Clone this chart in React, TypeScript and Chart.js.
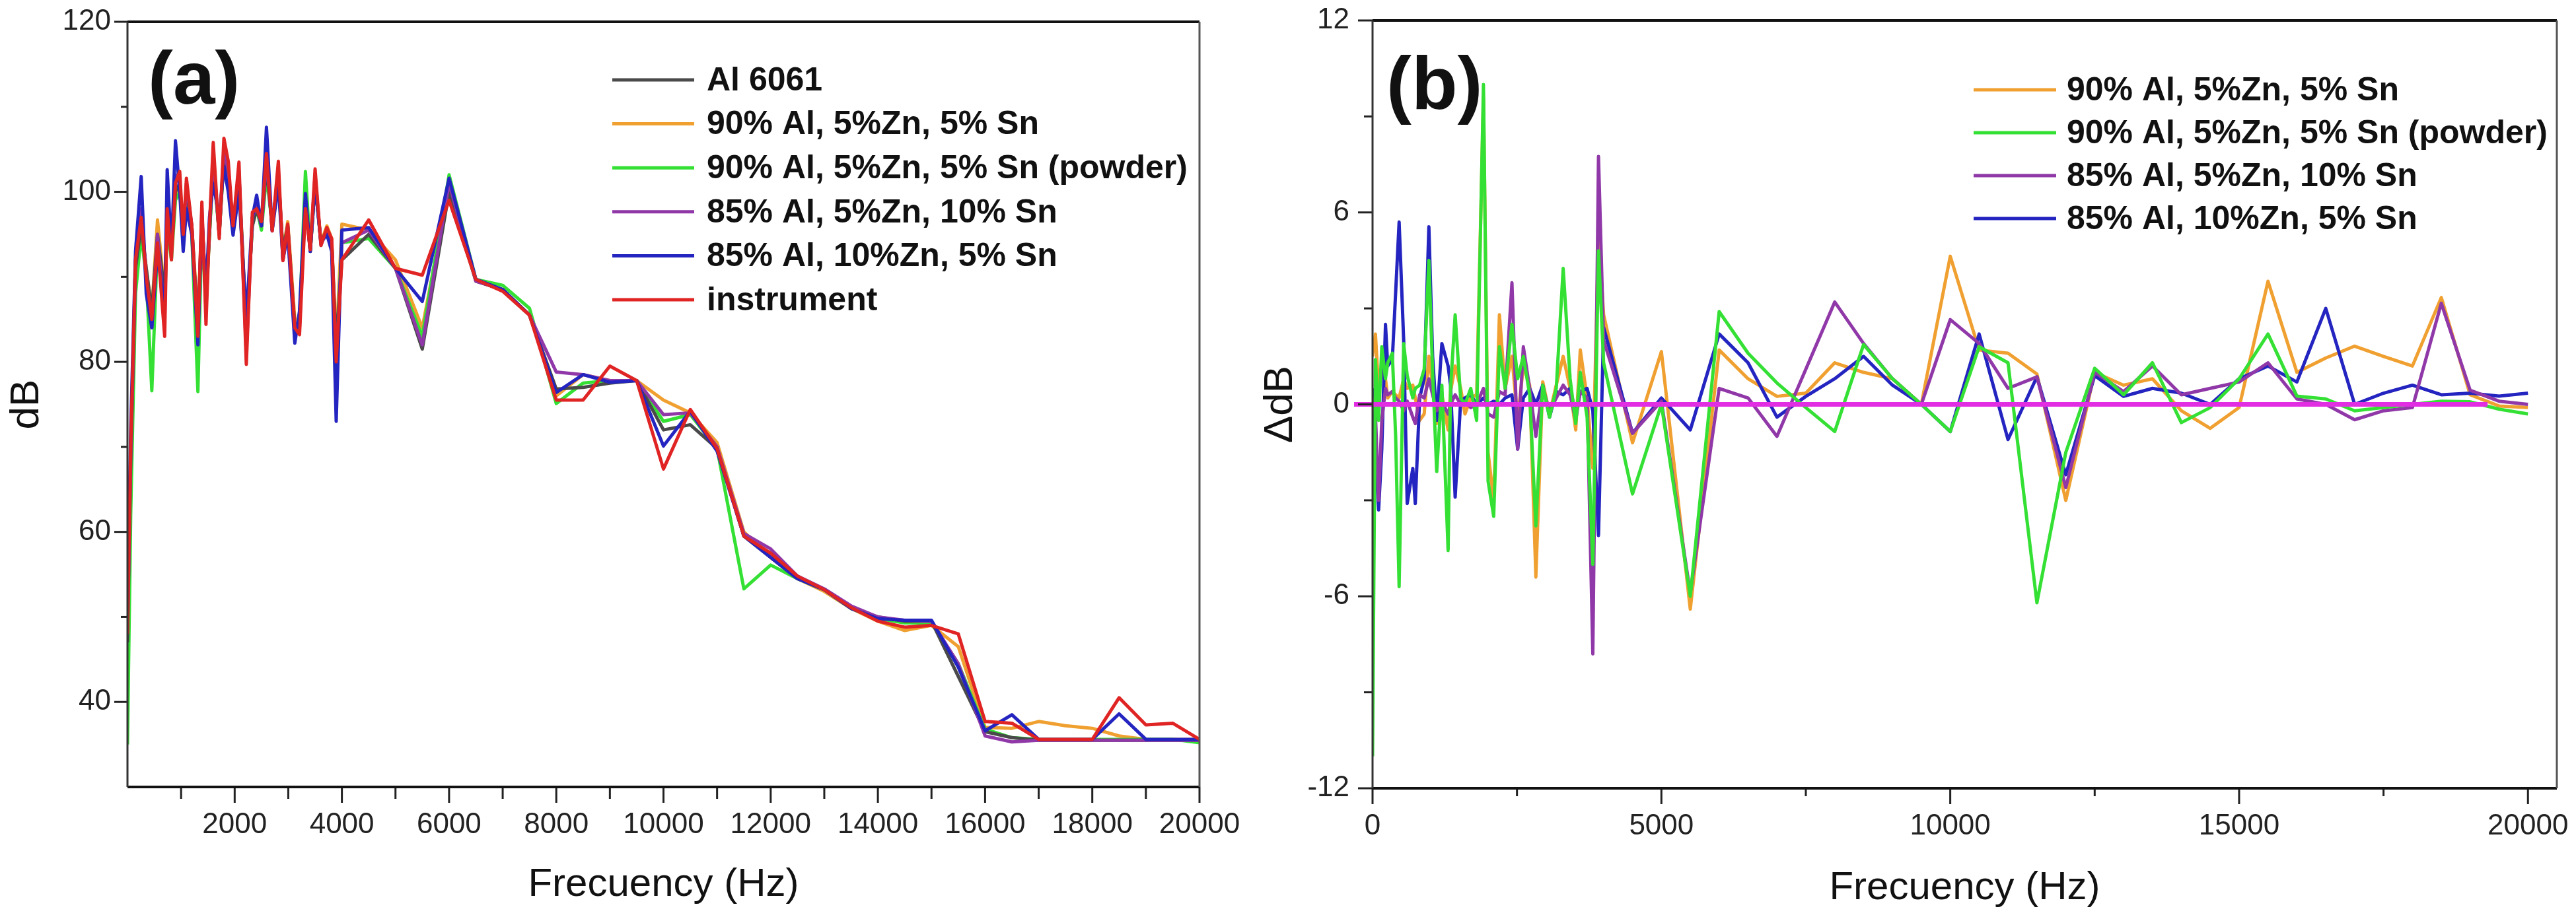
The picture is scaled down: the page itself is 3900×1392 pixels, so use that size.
import { useEffect, useRef } from "react";
import { Chart, registerables } from "chart.js";

Chart.register(...registerables);

const SANS = '"Liberation Sans", Arial, sans-serif';

// ---------- panel (a): level in dB ----------
const FREQ_A = [
  0, 60, 150, 256, 350, 454, 560, 694, 741, 820, 895, 975, 1040, 1100, 1200, 1314, 1388, 1465, 1530, 1600,
  1712, 1799, 1880, 1970, 2080, 2217, 2330, 2410, 2500, 2593, 2700, 2815, 2900, 2990, 3122, 3210, 3320, 3410,
  3500, 3610, 3720, 3810, 3894,
  4000, 4500, 5000, 5500, 6000, 6500, 7000, 7500, 8000, 8500, 9000, 9500, 10000, 10500, 11000, 11500, 12000,
  12500, 13000, 13500, 14000, 14500, 15000, 15500, 16000, 16500, 17000, 17500, 18000, 18500, 19000, 19500, 20000,
];
const INSTRUMENT = [
  48, 70, 92, 97, 90, 85, 94, 83, 98, 92, 101, 102.4, 95, 101.6, 96, 83, 98.8, 84.4, 96, 105.8,
  94.5, 106.3, 103.6, 96, 103.5, 79.7, 97.6, 98, 96.5, 104.5, 95.4, 103.6, 91.9, 96.2, 84, 83.2, 98, 93.2,
  102.7, 93.7, 95.8, 94.5, 80,
  92, 96.7, 91, 90.2, 99, 89.7, 88.3, 85.5, 75.5, 75.5, 79.5, 77.8, 67.4, 74.4, 69.8, 59.5, 57.5,
  54.8, 53.2, 51.1, 49.5, 48.8, 49, 48, 37.7, 37.5, 35.6, 35.6, 35.6, 40.5, 37.3, 37.5, 35.6,
];
const AL85_ZN10_A = [
  50, 72, 93, 101.8, 88, 84, 93, 86, 102.6, 93, 106, 100, 93, 98, 95, 82, 97, 88, 97, 101,
  97, 103, 100, 94.9, 100, 85, 97, 99.6, 96, 107.6, 95.4, 101, 92, 95, 82.2, 86, 99.8, 93,
  101, 94, 95, 93, 73,
  95.5, 95.8, 91, 87.1, 101.6, 89.7, 88.5, 85.5, 76.4, 78.5, 77.6, 77.8, 70.1, 74.2, 69.5, 59.5, 57,
  54.5, 53.2, 51, 49.8, 49.6, 49.6, 44.1, 36.6, 38.5, 35.6, 35.6, 35.6, 38.6, 35.6, 35.6, 35.6,
];
const AL6061_A = [
  47, 68, 91, 96, 91, 86, 95, 88, 97, 93, 100, 101, 95, 100, 96, 84, 97, 88, 95, 104,
  95, 104, 102, 96, 102, 84, 96, 98, 96, 103, 96, 102, 93, 96, 84, 85, 99, 93,
  101, 94, 95.5, 94, 82,
  92, 95, 91, 81.5, 100, 89.5, 88.5, 85.5, 76.8, 77, 77.5, 77.8, 72, 72.6, 69.8, 59.5, 57,
  54.5, 53.2, 51, 50, 49.5, 49.5, 43, 36.5, 35.8, 35.5, 35.5, 35.5, 35.5, 35.5, 35.5, 35.5,
];
const AL90_A = [
  46, 68, 91, 96.5, 91, 86, 96.7, 88, 97, 93, 99.5, 101, 96, 100, 96, 85, 97, 87, 95, 104,
  95, 104.5, 102, 96, 102, 83, 96.5, 98, 96, 103, 96, 102, 93, 96.5, 85, 85, 99, 93.5,
  101.5, 94, 96, 94.5, 82,
  96.2, 95.5, 92, 84, 100.5, 89.5, 88.5, 85.5, 76, 78.5, 77.8, 77.8, 75.5, 74, 70.5, 60, 57,
  54.5, 53, 51, 49.5, 48.4, 49, 46.5, 37, 36.9, 37.7, 37.2, 36.9, 36, 35.6, 35.6, 35.6,
];
const AL90_POWDER_A = [
  35, 62, 88, 95, 90, 76.6, 94, 87, 96, 92, 99, 100, 95, 99, 95, 76.5, 96, 87, 95, 103,
  95, 104, 101.5, 96, 101, 84, 96, 98, 95.5, 102, 96, 101, 93, 96, 84, 85, 102.4, 93,
  101, 94, 95.5, 94, 81,
  94, 94.5, 91, 83, 102, 89.7, 89, 86.3, 75.1, 77.5, 77.8, 77.8, 73, 73.8, 69.8, 53.3, 56.1,
  54.5, 53.2, 51, 49.8, 49.3, 49.3, 44.5, 36.8, 35.8, 35.6, 35.6, 35.6, 35.6, 35.6, 35.6, 35.2,
];
const AL85_SN10_A = [
  48, 69, 92, 98, 90, 84, 95, 85, 99, 93, 102, 101, 94, 101, 96, 83, 98, 86, 96, 104,
  95, 105, 102.5, 96, 102.5, 81, 97, 98.5, 96, 104, 95.5, 102.5, 92, 96, 83, 84, 99, 93,
  102, 93.7, 95.6, 94, 79,
  94, 95.5, 91, 82, 101, 89.5, 88.5, 85.5, 78.8, 78.5, 77.8, 77.8, 73.8, 74, 70, 59.8, 58,
  54.8, 53.3, 51.3, 50, 49.6, 49.5, 44.5, 36, 35.3, 35.5, 35.5, 35.5, 35.5, 35.5, 35.5, 35.5,
];
const X_TICKS_A = [1000, 2000, 3000, 4000, 5000, 6000, 7000, 8000, 9000, 10000, 11000, 12000, 13000, 14000, 15000, 16000, 17000, 18000, 19000, 20000];
const X_LABELS_A = [2000, 4000, 6000, 8000, 10000, 12000, 14000, 16000, 18000, 20000];
const Y_TICKS_A = [40, 50, 60, 70, 80, 90, 100, 110, 120];
const Y_LABELS_A = [40, 60, 80, 100, 120];

// ---------- panel (b): difference in dB ----------
const FREQ_B = [
  0, 50, 105, 160, 224, 263, 342, 400, 460, 539, 600, 697, 740, 815, 894, 975, 1040, 1111, 1200, 1308,
  1350, 1430, 1525, 1600, 1700, 1802, 1920, 2000, 2097, 2196, 2295, 2413, 2512, 2610, 2720, 2827, 2946, 3064,
  3180, 3300, 3420, 3517, 3596, 3714, 3813, 3911,
  4000, 4500, 5000, 5500, 6000, 6500, 7000, 7500, 8000, 8500, 9000, 9500, 10000, 10500, 11000, 11500, 12000,
  12500, 13000, 13500, 14000, 14500, 15000, 15500, 16000, 16500, 17000, 17500, 18000, 18500, 19000, 19500, 20000,
];
const D_AL90 = [
  1.5, 2.2, 0.5, 1.0, 0.8, 0.2, 0.4, 0.3, 0.2, 0.8, 0.5, 0.6, 0.2, -0.5, -0.3, 1.5, 0.6, -0.6, 0.3, -0.8,
  0.4, 1.2, 0.5, -0.3, 0.2, 0.3, 9.6, -1.5, -3.0, 2.8, 0.5, 1.5, -0.5, 1.2, 0.6, -5.4, 0.7, -0.3,
  0.6, 1.5, 0.5, -0.8, 1.7, 0.2, -2.0, 5.26,
  2.8, -1.2, 1.65, -6.4, 1.7, 0.8, 0.25, 0.35, 1.3, 1.0, 0.8, 0, 4.63, 1.7, 1.6, 0.95, -3.0,
  1.0, 0.6, 0.8, -0.2, -0.75, -0.1, 3.85, 1.0, 1.45, 1.82, 1.5, 1.2, 3.34, 0.3, -0.05, -0.1,
];
const D_AL90_POWDER = [
  -11, 1.4, -0.5, 1.8, 0.8, 1.3, 1.6, -1.0, -5.7, 1.9, 0.9, 0.2, 0.5, 0.6, 1.1, 4.5, 1.0, -2.1, 0.6, -4.57,
  0.5, 2.8, 0.2, 0, 0.5, -0.5, 10, -2.4, -3.5, 1.8, 0.5, 2.5, 0.8, 1.5, 0.3, -3.8, 0.6, -0.4,
  0.5, 4.25, 0.8, -0.6, 1.0, -0.4, -5.0, 4.8,
  1.3, -2.8, 0, -6.0, 2.9, 1.6, 0.67, -0.1, -0.85, 1.87, 0.8, 0, -0.85, 1.8, 1.3, -6.2, -1.5,
  1.13, 0.3, 1.3, -0.57, -0.1, 0.8, 2.2, 0.26, 0.17, -0.2, -0.1, 0, 0.1, 0.08, -0.15, -0.3,
];
const D_AL85_SN10 = [
  0.2, -0.3, -3.0, -0.5, 0.5, 0.3, 0.4, 0.2, 0.1, -0.2, 0.1, -0.4, -0.6, 0.3, 0.2, 0.8, 0.3, -0.2, 0.1, -0.3,
  0, 0.3, 0, 0.1, -0.1, 0, 0.5, -0.3, -0.4, 0.4, 0.3, 3.8, -1.4, 1.8, 0.5, -1.0, 0.5, -0.2,
  0.2, 0.6, 0.3, -0.5, 0.4, 0.2, -7.8, 7.75,
  2.0, -0.9, 0.1, -5.9, 0.5, 0.2, -1.0, 1.1, 3.2, 1.9, 0.8, 0, 2.65, 1.9, 0.5, 0.86, -2.6,
  1.0, 0.4, 1.2, 0.3, 0.5, 0.7, 1.3, 0.17, 0, -0.48, -0.2, -0.1, 3.16, 0.44, 0.1, 0,
];
const D_AL85_ZN10 = [
  0.5, -1.5, -3.3, -1.4, 2.5, 1.2, 1.4, 3.5, 5.7, 2.0, -3.1, -2.0, -3.1, 0.2, 0.8, 5.55, 1.5, -0.5, 1.9, 1.2,
  0.6, -2.9, 0.1, 0.2, 0.3, 0, 0.2, 0, 0.1, 0, 0.2, 0.3, -1.4, 0.2, 0.5, 0, 0.6, -0.4,
  0.4, 0.3, 0.5, -0.3, 0.4, 0.5, -0.2, -4.1,
  2.4, -0.9, 0.2, -0.8, 2.2, 1.3, -0.4, 0.25, 0.8, 1.5, 0.6, 0, -0.85, 2.2, -1.1, 0.86, -2.2,
  0.9, 0.25, 0.5, 0.35, 0, 0.8, 1.2, 0.7, 3.0, 0, 0.35, 0.6, 0.3, 0.35, 0.26, 0.35,
];
const ZERO_X = [-320, 19300];
const ZERO_Y = [0, 0];
const X_TICKS_B = [0, 2500, 5000, 7500, 10000, 12500, 15000, 17500, 20000];
const X_LABELS_B = [0, 5000, 10000, 15000, 20000];
const Y_TICKS_B = [-12, -9, -6, -3, 0, 3, 6, 9, 12];
const Y_LABELS_B = [-12, -6, 0, 6, 12];

const C_GRAY = "#4a4a4a";
const C_ORANGE = "#f0a030";
const C_GREEN = "#35e035";
const C_PURPLE = "#9038a8";
const C_BLUE = "#2424c0";
const C_RED = "#e02424";
const C_MAGENTA = "#e22ee2";

const N_AL6061 = "Al 6061";
const N_AL90 = "90% Al, 5%Zn, 5% Sn";
const N_POWDER = "90% Al, 5%Zn, 5% Sn (powder)";
const N_SN10 = "85% Al, 5%Zn, 10% Sn";
const N_ZN10 = "85% Al, 10%Zn, 5% Sn";
const N_INSTR = "instrument";

type Line = { label: string; color: string; values: number[]; xs?: number[]; width?: number; clip?: any };

type Panel = {
  left: number; width: number;
  pad: { top: number; right: number };
  yAxisW: number; xAxisH: number;
  xMin: number; xMax: number; yMin: number; yMax: number;
  xTicks: number[]; xLabels: number[]; yTicks: number[]; yLabels: number[];
  xMinorLen: number; yMajorLen: number; yMinorLen: number;
  yTickPad: number; yTitle: string; yTitlePad: number; xTitlePad: number;
  freq: number[]; lines: Line[]; legend: string[];
  tag: string; tagPos: [number, number];
  legPos: { x0: number; x1: number; tx: number; y0: number; dy: number };
};

const PANEL_A: Panel = {
  left: 0, width: 1890, pad: { top: 33, right: 74 }, yAxisW: 193, xAxisH: 200,
  xMin: 0, xMax: 20000, yMin: 30, yMax: 120,
  xTicks: X_TICKS_A, xLabels: X_LABELS_A, yTicks: Y_TICKS_A, yLabels: Y_LABELS_A,
  xMinorLen: 18, yMajorLen: 20, yMinorLen: 10,
  yTickPad: 25, yTitle: "dB", yTitlePad: 4, xTitlePad: 16,
  freq: FREQ_A,
  lines: [
    { label: N_INSTR, color: C_RED, values: INSTRUMENT },
    { label: N_ZN10, color: C_BLUE, values: AL85_ZN10_A },
    { label: N_SN10, color: C_PURPLE, values: AL85_SN10_A },
    { label: N_AL6061, color: C_GRAY, values: AL6061_A },
    { label: N_POWDER, color: C_GREEN, values: AL90_POWDER_A },
    { label: N_AL90, color: C_ORANGE, values: AL90_A },
  ],
  legend: [N_AL6061, N_AL90, N_POWDER, N_SN10, N_ZN10, N_INSTR],
  tag: "(a)", tagPos: [31, 93],
  legPos: { x0: 734, x1: 858, tx: 877, y0: 88, dy: 66.6 },
};

const PANEL_B: Panel = {
  left: 1890, width: 2010, pad: { top: 31, right: 29 }, yAxisW: 188, xAxisH: 198,
  xMin: 0, xMax: 20500, yMin: -12, yMax: 12,
  xTicks: X_TICKS_B, xLabels: X_LABELS_B, yTicks: Y_TICKS_B, yLabels: Y_LABELS_B,
  xMinorLen: 12, yMajorLen: 22, yMinorLen: 13,
  yTickPad: 35, yTitle: "ΔdB", yTitlePad: 12, xTitlePad: 11,
  freq: FREQ_B,
  lines: [
    { label: "zero", color: C_MAGENTA, values: ZERO_Y, xs: ZERO_X, width: 7, clip: { left: 40, right: 0, top: 0, bottom: 0 } },
    { label: N_POWDER, color: C_GREEN, values: D_AL90_POWDER },
    { label: N_SN10, color: C_PURPLE, values: D_AL85_SN10 },
    { label: N_ZN10, color: C_BLUE, values: D_AL85_ZN10 },
    { label: N_AL90, color: C_ORANGE, values: D_AL90 },
  ],
  legend: [N_AL90, N_POWDER, N_SN10, N_ZN10],
  tag: "(b)", tagPos: [21, 103],
  legPos: { x0: 910, x1: 1035, tx: 1051, y0: 105, dy: 65 },
};

function decor(p: Panel) {
  return {
    id: "decor",
    afterDatasetsDraw(chart: any) {
      const { ctx, chartArea: a, scales } = chart;
      const xs = scales.x, ys = scales.y;
      ctx.save();
      ctx.strokeStyle = "#222";
      ctx.lineWidth = 3;
      p.xTicks.forEach((v) => {
        const px = xs.getPixelForValue(v);
        const len = p.xLabels.includes(v) ? 24 : p.xMinorLen;
        ctx.beginPath(); ctx.moveTo(px, a.bottom); ctx.lineTo(px, a.bottom + len); ctx.stroke();
      });
      p.yTicks.forEach((v) => {
        const py = ys.getPixelForValue(v);
        const len = p.yLabels.includes(v) ? p.yMajorLen : p.yMinorLen;
        ctx.beginPath(); ctx.moveTo(a.left - len, py); ctx.lineTo(a.left, py); ctx.stroke();
      });
      // frame
      ctx.strokeStyle = "#111";
      ctx.lineWidth = 4;
      ctx.beginPath(); ctx.moveTo(a.left, a.top); ctx.lineTo(a.right, a.top); ctx.stroke();
      ctx.beginPath(); ctx.moveTo(a.left, a.bottom); ctx.lineTo(a.right, a.bottom); ctx.stroke();
      ctx.lineWidth = 3;
      ctx.strokeStyle = "#333";
      ctx.beginPath(); ctx.moveTo(a.left, a.top); ctx.lineTo(a.left, a.bottom); ctx.stroke();
      ctx.strokeStyle = "#555";
      ctx.beginPath(); ctx.moveTo(a.right, a.top); ctx.lineTo(a.right, a.bottom); ctx.stroke();
      // panel tag
      ctx.fillStyle = "#111";
      ctx.textBaseline = "middle";
      ctx.textAlign = "left";
      ctx.font = `bold 114px ${SANS}`;
      ctx.fillText(p.tag, a.left + p.tagPos[0], a.top + p.tagPos[1]);
      // legend
      const L = p.legPos;
      ctx.font = `bold 50px ${SANS}`;
      p.legend.forEach((name, i) => {
        const line = p.lines.find((l) => l.label === name)!;
        const y = a.top + L.y0 + L.dy * i;
        ctx.strokeStyle = line.color;
        ctx.lineWidth = 5;
        ctx.beginPath(); ctx.moveTo(a.left + L.x0, y); ctx.lineTo(a.left + L.x1, y); ctx.stroke();
        ctx.fillStyle = "#111";
        ctx.fillText(name, a.left + L.tx, y + 2);
      });
      ctx.restore();
    },
  };
}

function PanelChart({ p }: { p: Panel }) {
  const ref = useRef<HTMLCanvasElement | null>(null);
  useEffect(() => {
    if (!ref.current) return;
    const ch = new Chart(ref.current, {
      type: "line",
      data: {
        datasets: p.lines.map((l) => {
          const d: any = {
            label: l.label,
            data: (l.xs ?? p.freq).map((f, i) => ({ x: f, y: l.values[i] })),
            borderColor: l.color,
            backgroundColor: l.color,
            borderWidth: l.width ?? 5,
            borderJoinStyle: "round",
            pointRadius: 0,
            tension: 0,
            fill: false,
          };
          if (l.clip) d.clip = l.clip;
          return d;
        }),
      },
      options: {
        animation: false,
        responsive: false,
        events: [],
        layout: { padding: { left: 0, top: p.pad.top, right: p.pad.right, bottom: 0 } },
        plugins: { legend: { display: false }, tooltip: { enabled: false } },
        scales: {
          x: {
            type: "linear", min: p.xMin, max: p.xMax,
            grid: { display: false, drawTicks: false }, border: { display: false },
            afterBuildTicks: (s: any) => { s.ticks = p.xLabels.map((v) => ({ value: v })); },
            afterFit: (s: any) => { s.height = p.xAxisH; s.paddingLeft = 0; s.paddingRight = 0; },
            ticks: {
              autoSkip: false, maxRotation: 0, minRotation: 0, padding: 31, color: "#222",
              font: { family: SANS, size: 44 }, callback: (v: any) => String(v),
            },
            title: {
              display: true, text: "Frecuency (Hz)", color: "#111",
              font: { family: SANS, size: 60 }, padding: { top: 0, bottom: p.xTitlePad },
            },
          },
          y: {
            type: "linear", min: p.yMin, max: p.yMax,
            grid: { display: false, drawTicks: false }, border: { display: false },
            afterBuildTicks: (s: any) => { s.ticks = p.yLabels.map((v) => ({ value: v })); },
            afterFit: (s: any) => { s.width = p.yAxisW; s.paddingTop = 0; s.paddingBottom = 0; },
            ticks: {
              autoSkip: false, padding: p.yTickPad, color: "#222",
              font: { family: SANS, size: 44 }, callback: (v: any) => String(v),
            },
            title: {
              display: true, text: p.yTitle, color: "#111",
              font: { family: SANS, size: 62 }, padding: { top: p.yTitlePad, bottom: 0 },
            },
          },
        },
      },
      plugins: [decor(p)],
    } as any);
    return () => ch.destroy();
  }, []);
  return (
    <canvas
      ref={ref}
      width={p.width}
      height={1392}
      style={{ position: "absolute", left: p.left, top: 0, width: p.width, height: 1392 }}
    />
  );
}

export default function App() {
  return (
    <div style={{ position: "absolute", left: 0, top: 0, width: 3900, height: 1392, background: "#fff", overflow: "hidden" }}>
      <PanelChart p={PANEL_A} />
      <PanelChart p={PANEL_B} />
    </div>
  );
}
